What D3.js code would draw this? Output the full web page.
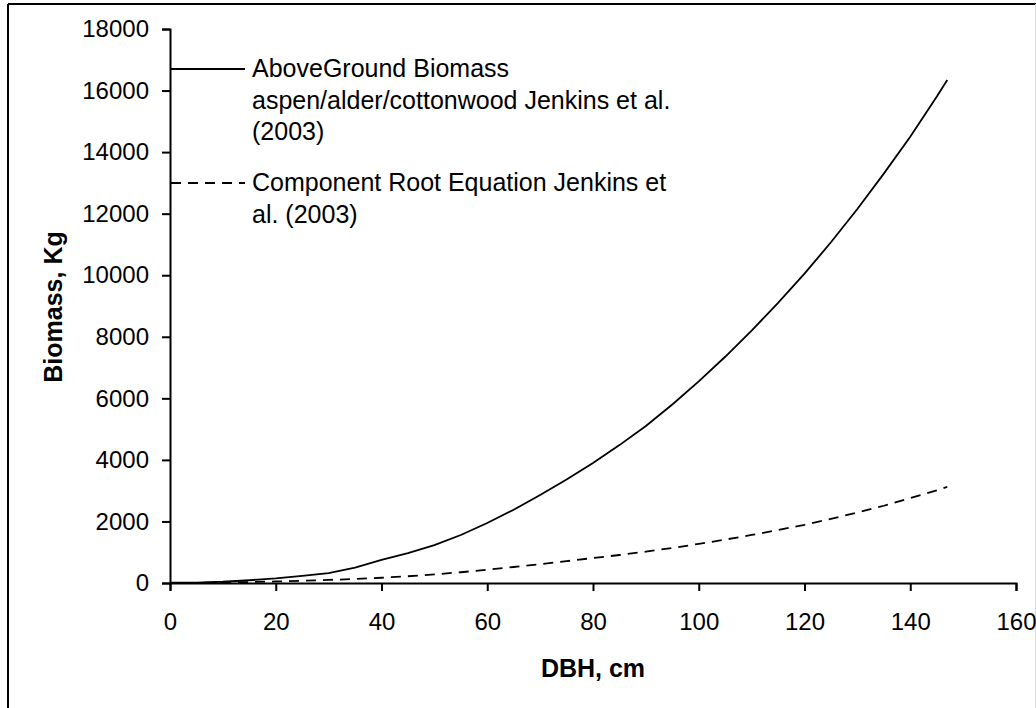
<!DOCTYPE html>
<html>
<head>
<meta charset="utf-8">
<script src="https://cdn.jsdelivr.net/npm/d3@7"></script>
<style>
  body { margin: 0; background: #fff; }
  svg text { font-family: "Liberation Sans", Arial, sans-serif; fill: #000; }
</style>
</head>
<body>
<svg id="chart" width="1036" height="708"></svg>
<script>
// values
const dbh = [0, 5, 10, 15, 20, 25, 30, 35, 40, 45, 50, 55, 60, 65, 70, 75, 80, 85, 90, 95, 100, 105, 110, 115, 120, 125, 130, 135, 140, 145, 147];
const aboveGround = [10, 10, 40, 90, 150, 230, 320, 500, 750, 970, 1230, 1560, 1950, 2380, 2860, 3360, 3900, 4480, 5100, 5800, 6550, 7350, 8200, 9100, 10050, 11070, 12150, 13300, 14500, 15800, 16340];
const rootBiomass = [0, 5, 15, 30, 50, 70, 100, 130, 170, 220, 280, 350, 430, 520, 610, 710, 810, 910, 1020, 1140, 1270, 1410, 1560, 1720, 1890, 2080, 2290, 2510, 2760, 3010, 3120];
const xTicks = [0, 20, 40, 60, 80, 100, 120, 140, 160];
const yTicks = [0, 2000, 4000, 6000, 8000, 10000, 12000, 14000, 16000, 18000];

const margin = {top: 29, right: 20, bottom: 125, left: 170},
    width = 1016 - margin.left,
    height = 583 - margin.top;

const svg = d3.select("#chart");

// frame around the figure
svg.append("line").attr("x1", 8).attr("y1", 4).attr("x2", 1036).attr("y2", 4)
    .attr("stroke", "#000").attr("stroke-width", 2);
svg.append("line").attr("x1", 8).attr("y1", 4).attr("x2", 8).attr("y2", 708)
    .attr("stroke", "#000").attr("stroke-width", 2);
svg.append("line").attr("x1", 1035.5).attr("y1", 4).attr("x2", 1035.5).attr("y2", 708)
    .attr("stroke", "#ddd").attr("stroke-width", 1);

const g = svg.append("g")
    .attr("transform", `translate(${margin.left},${margin.top})`);

const x = d3.scaleLinear().domain([0, 160]).range([0, width]);
const y = d3.scaleLinear().domain([0, 18000]).range([height, 0]);

const xAxis = g.append("g")
    .attr("transform", `translate(0,${height})`)
    .call(d3.axisBottom(x).tickValues(xTicks).tickSize(8).tickPadding(22).tickFormat(d3.format("d")));

const yAxis = g.append("g")
    .call(d3.axisLeft(y).tickValues(yTicks).tickSize(8).tickPadding(13).tickFormat(d3.format("d")));

[xAxis, yAxis].forEach(a => {
  a.select(".domain").attr("stroke", "#000").attr("stroke-width", 2);
  a.selectAll(".tick line").attr("stroke", "#000").attr("stroke-width", 2);
  a.selectAll(".tick text").attr("font-size", 24).attr("font-family", "Liberation Sans, Arial, sans-serif").attr("fill", "#000");
});

const line = d3.line().x((d, i) => x(dbh[i])).y(d => y(d));

g.append("path")
    .datum(aboveGround)
    .attr("fill", "none")
    .attr("stroke", "#000")
    .attr("stroke-width", 1.8)
    .attr("d", line);

g.append("path")
    .datum(rootBiomass)
    .attr("fill", "none")
    .attr("stroke", "#000")
    .attr("stroke-width", 1.8)
    .attr("stroke-dasharray", "10,7")
    .attr("d", line);

// legend
const legend = [
  {dash: null, y: 69, lines: ["AboveGround Biomass", "aspen/alder/cottonwood Jenkins et al.", "(2003)"]},
  {dash: "10,7", y: 183, lines: ["Component Root Equation Jenkins et", "al. (2003)"]}
];
legend.forEach(l => {
  svg.append("line")
      .attr("x1", 171).attr("x2", 245).attr("y1", l.y).attr("y2", l.y)
      .attr("stroke", "#000").attr("stroke-width", 1.8)
      .attr("stroke-dasharray", l.dash);
  l.lines.forEach((t, i) => {
    svg.append("text")
        .attr("x", 252).attr("y", l.y + 8 + i * 31.5)
        .attr("font-size", 25)
        .text(t);
  });
});

// axis titles
svg.append("text")
    .attr("x", 593).attr("y", 677)
    .attr("text-anchor", "middle")
    .attr("font-size", 25).attr("font-weight", "bold")
    .text("DBH, cm");

svg.append("text")
    .attr("transform", "translate(62,307) rotate(-90)")
    .attr("text-anchor", "middle")
    .attr("font-size", 25).attr("font-weight", "bold")
    .text("Biomass, Kg");
</script>
</body>
</html>
